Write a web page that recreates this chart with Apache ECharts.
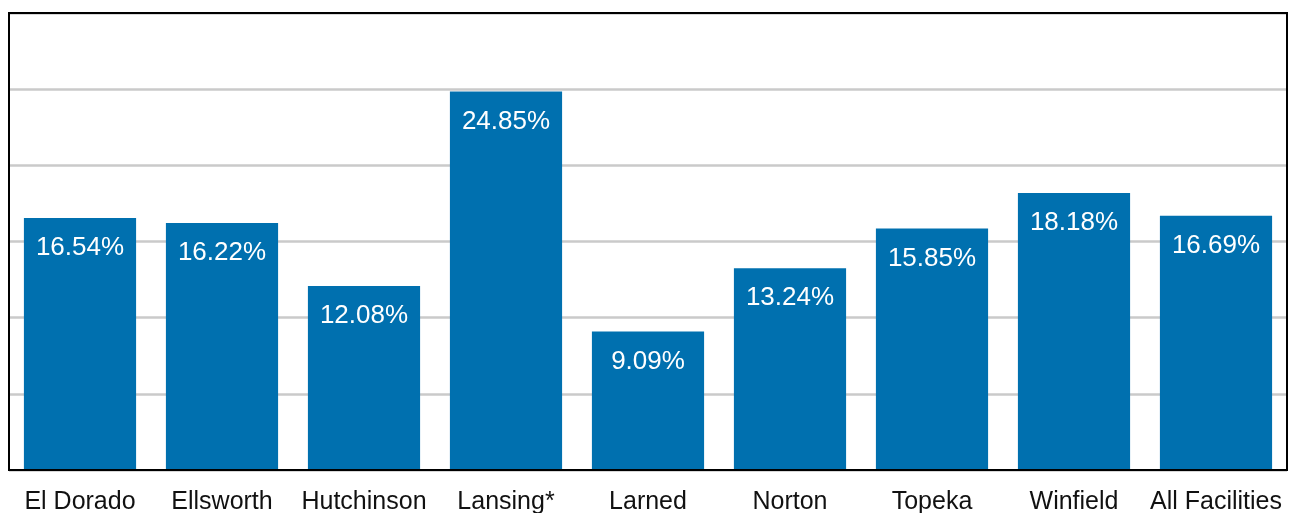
<!DOCTYPE html>
<html>
<head>
<meta charset="utf-8">
<script src="https://cdn.jsdelivr.net/npm/echarts@6/dist/echarts.min.js"></script>
<style>
  html, body { margin: 0; padding: 0; background: #fff; }
  #chart { width: 1294px; height: 513px; }
</style>
</head>
<body>
<div id="chart"></div>
<script>
// Facility names along the x axis
const facilities = ['El Dorado', 'Ellsworth', 'Hutchinson', 'Lansing*', 'Larned', 'Norton', 'Topeka', 'Winfield', 'All Facilities'];
// Percentage for each facility
const rates = [16.54, 16.22, 12.08, 24.85, 9.09, 13.24, 15.85, 18.18, 16.69];

const FONT = 'Liberation Sans, Arial, sans-serif';

const chart = echarts.init(document.getElementById('chart'), null, { renderer: 'canvas' });
chart.setOption({
  animation: false,
  grid: {
    left: 9, right: 7, top: 13, bottom: 43,
    outerBoundsMode: 'none', containLabel: false,
    show: true, z: 5, borderColor: '#000', borderWidth: 2, backgroundColor: 'transparent'
  },
  xAxis: {
    type: 'category',
    data: facilities,
    z: 5,
    axisLine: { show: true, lineStyle: { color: '#000', width: 2 } },
    axisTick: { show: false },
    axisLabel: {
      color: '#111', fontSize: 25, margin: 20,
      fontFamily: FONT, interval: 0
    }
  },
  yAxis: {
    type: 'value',
    min: 0, max: 30, interval: 5,
    axisLabel: { show: false },
    axisLine: { show: false },
    axisTick: { show: false },
    splitLine: { show: true, lineStyle: { color: '#cacaca', width: 2.5 } }
  },
  series: [{
    type: 'bar',
    data: rates,
    barCategoryGap: '21%',
    itemStyle: { color: '#0070AF' },
    label: {
      show: true,
      position: 'insideTop',
      distance: 17,
      color: '#fff',
      fontSize: 26,
      fontFamily: FONT,
      formatter: p => p.value.toFixed(2) + '%'
    }
  }]
});
</script>
</body>
</html>
